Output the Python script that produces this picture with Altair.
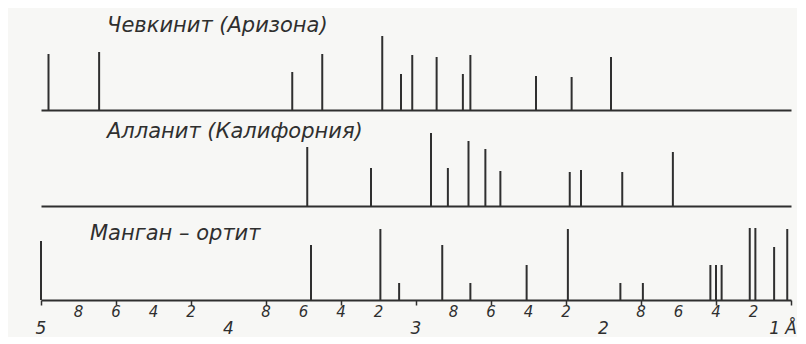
import altair as alt
import pandas as pd

# ---- data (d-spacing in Å, relative intensity) ----
titles = ["Чевкинит (Аризона)", "Алланит (Калифорния)", "Манган – ортит"]

chev_d = [4.96, 4.69, 3.66, 3.50, 3.18, 3.08, 3.02, 2.89, 2.75, 2.71, 2.36, 2.17, 1.96]
chev_i = [56, 58, 38, 56, 74, 36, 55, 53, 36, 55, 34, 33, 53]

allan_d = [3.58, 3.24, 2.92, 2.83, 2.72, 2.63, 2.55, 2.18, 2.12, 1.90, 1.63]
allan_i = [59, 38, 73, 38, 65, 57, 35, 34, 36, 34, 54]

mang_d = [5.00, 3.56, 3.19, 3.09, 2.86, 2.71, 2.41, 2.19, 1.91, 1.79, 1.43, 1.40, 1.37, 1.22, 1.19, 1.09, 1.02]
mang_i = [59, 55, 71, 17, 55, 17, 35, 71, 17, 17, 35, 35, 35, 72, 72, 53, 71]

tick_values = [5.0, 4.8, 4.6, 4.4, 4.2, 4.0, 3.8, 3.6, 3.4, 3.2, 3.0,
               2.8, 2.6, 2.4, 2.2, 2.0, 1.8, 1.6, 1.4, 1.2, 1.0]
tick_labels = ["5", "8", "6", "4", "2", "4", "8", "6", "4", "2", "3",
               "8", "6", "4", "2", "2", "8", "6", "4", "2", "1 Å"]
tick_major = [True, False, False, False, False, True, False, False, False, False, True,
              False, False, False, False, True, False, False, False, False, True]

# ---- styling ----
INK = "#2f2f2f"
BG = "#f7f7f5"
FONT = "DejaVu Sans"
W = 750
H = [95, 95, 93]
title_pos = [(66, 11), (66, 21), (49, 27)]

xscale = alt.Scale(domain=[5, 1], nice=False, zero=False)


def panel(k, d, inten, bottom):
    h = H[k]
    df = pd.DataFrame({"d": d, "i": inten})
    yscale = alt.Scale(domain=[0, h], nice=False, zero=True)
    if bottom:
        xaxis = alt.Axis(values=tick_values, labels=False, ticks=True, tickSize=5,
                         tickWidth=1.5, tickColor=INK, domainColor=INK, domainWidth=2,
                         grid=False, title=None)
    else:
        xaxis = alt.Axis(labels=False, ticks=False, domainColor=INK, domainWidth=2,
                         grid=False, title=None)
    lines = alt.Chart(df).mark_rule(color=INK, strokeWidth=2).encode(
        x=alt.X("d:Q", scale=xscale, axis=xaxis),
        y=alt.Y("i:Q", scale=yscale, axis=None),
        y2=alt.datum(0),
    )
    tx, ty = title_pos[k]
    ttl = alt.Chart(pd.DataFrame({"t": [titles[k]]})).mark_text(
        align="left", baseline="middle", font=FONT, fontSize=21,
        fontStyle="italic", color=INK,
    ).encode(text="t:N", x=alt.value(tx), y=alt.value(ty))
    layers = [lines, ttl]
    if bottom:
        tdf = pd.DataFrame({"d": tick_values, "lab": tick_labels, "major": tick_major})
        minor = alt.Chart(tdf).transform_filter("!datum.major").mark_text(
            font=FONT, fontSize=15, fontStyle="italic", color=INK, baseline="middle",
        ).encode(x=alt.X("d:Q", scale=xscale), y=alt.value(h + 12), text="lab:N")
        major = alt.Chart(tdf).transform_filter("datum.major && datum.d > 1.1").mark_text(
            font=FONT, fontSize=17, fontStyle="italic", color=INK, baseline="middle",
        ).encode(x=alt.X("d:Q", scale=xscale), y=alt.value(h + 29), text="lab:N")
        last = alt.Chart(tdf).transform_filter("datum.d < 1.1").mark_text(
            font=FONT, fontSize=17, fontStyle="italic", color=INK, baseline="middle",
            align="right", dx=6,
        ).encode(x=alt.X("d:Q", scale=xscale), y=alt.value(h + 29), text="lab:N")
        layers += [minor, major, last]
    return alt.layer(*layers).properties(width=W, height=h)


chart = alt.vconcat(
    panel(0, chev_d, chev_i, False),
    panel(1, allan_d, allan_i, False),
    panel(2, mang_d, mang_i, True),
    spacing=0,
).properties(
    padding={"left": 27, "top": 7, "right": 0, "bottom": 0},
    background=BG,
).configure_view(stroke=None)

chart.save("out.html", embed_options={"renderer": "svg", "actions": False})
